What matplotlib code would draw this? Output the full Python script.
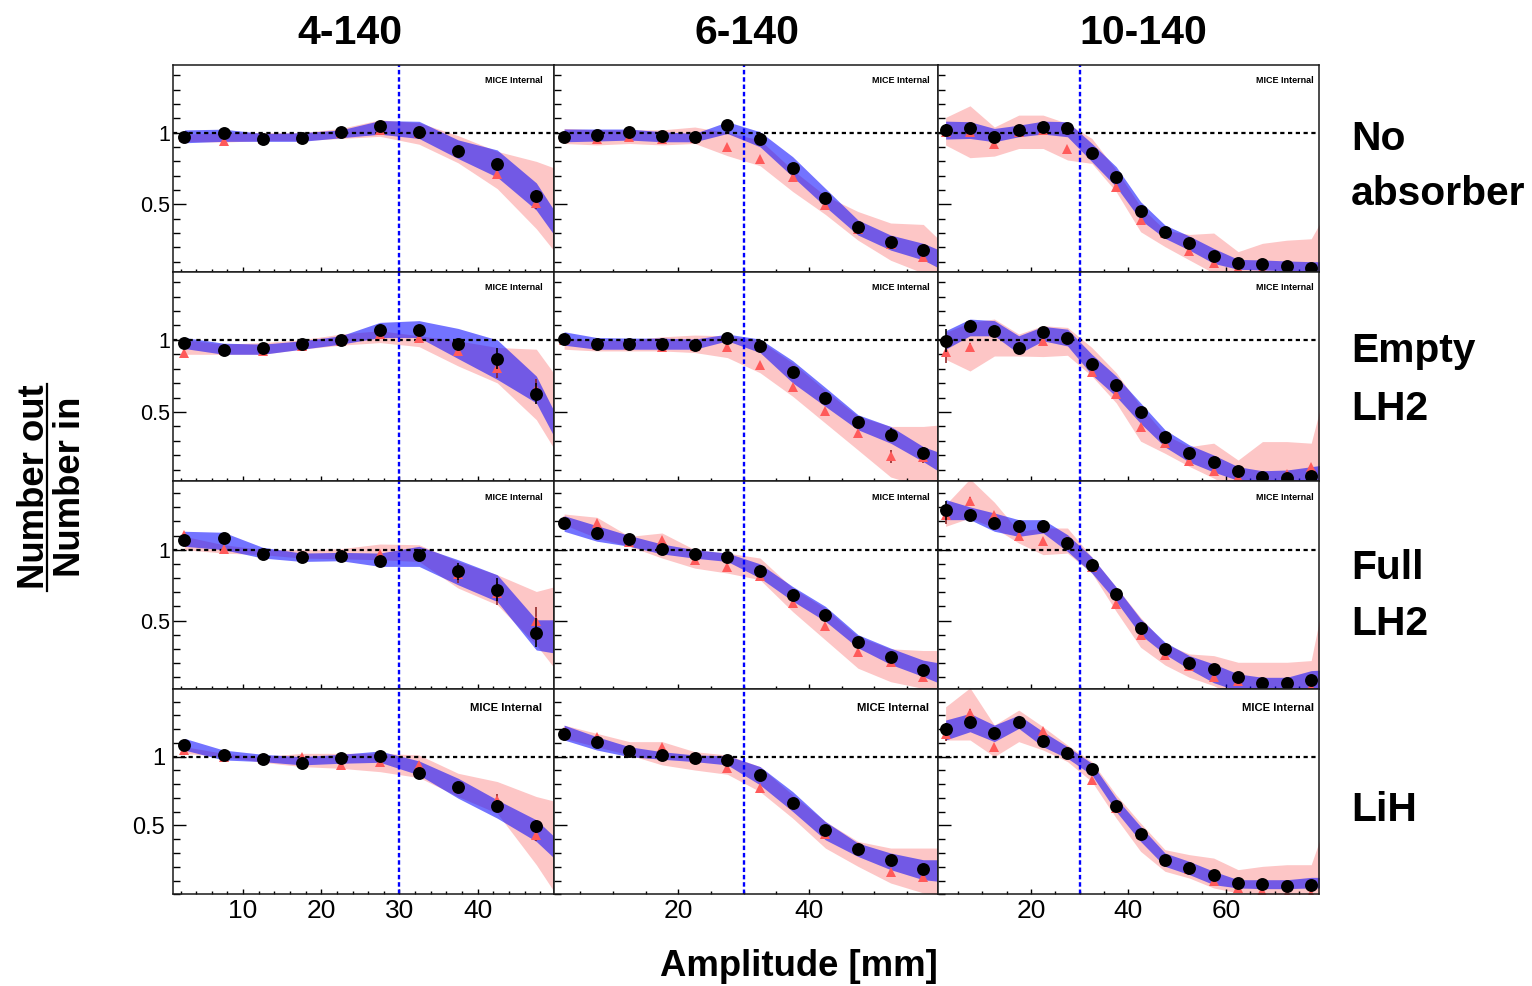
import matplotlib
matplotlib.use("Agg")
import matplotlib.pyplot as plt
from matplotlib.ticker import MultipleLocator
from matplotlib.lines import Line2D

plt.rcParams['font.family'] = ['Liberation Sans', 'DejaVu Sans']

# ---------------- labels ----------------
COLUMN_TITLES = ["4-140", "6-140", "10-140"]
ROW_LABELS = [["No", "absorber"], ["Empty", "LH2"], ["Full", "LH2"], ["LiH"]]
X_LABEL = "Amplitude [mm]"
Y_NUM = "Number out"
Y_DEN = "Number in"
WATERMARK = "MICE Internal"

# ---------------- amplitude bin centres ----------------
AMP_4 = [2.5, 7.5, 12.5, 17.5, 22.5, 27.5, 32.5, 37.5, 42.5, 47.5]
AMP_6 = [2.5, 7.5, 12.5, 17.5, 22.5, 27.5, 32.5, 37.5, 42.5, 47.5, 52.5, 57.5]
AMP_10 = [2.5, 7.5, 12.5, 17.5, 22.5, 27.5, 32.5, 37.5, 42.5, 47.5, 52.5, 57.5,
          62.5, 67.5, 72.5, 77.5]
BAND_EDGE = [50.0, 60.0, 80.0]   # band continues to the frame edge
X_MAJOR = [[10, 20, 30, 40], [20, 40], [20, 40, 60]]
X_MINOR = [2, 5, 5]
X_LIMITS = [(1.0, 49.8), (1.0, 59.8), (1.0, 79.0)]
Y_TICKS = [0.5, 1.0]
Y_TICKLABELS = ["0.5", "1"]
REF_Y = 1.0
REF_X = 30.0

# ---------------- No absorber ----------------
noabs_4_data = [0.97, 1.00, 0.955, 0.96, 1.005, 1.05, 1.005, 0.875, 0.78, 0.56]
noabs_4_mc = [0.97, 0.945, 0.955, 0.96, 1.0, 1.02, 1.0, 0.87, 0.71, 0.51]
noabs_4_err = [0.01, 0.01, 0.01, 0.01, 0.01, 0.01, 0.015, 0.02, 0.035, 0.04]
noabs_4_blue_hi = [1.02, 1.025, 0.995, 1.0, 1.02, 1.085, 1.08, 0.95, 0.88, 0.65, 0.44]
noabs_4_blue_lo = [0.93, 0.94, 0.94, 0.94, 0.965, 0.99, 0.96, 0.82, 0.69, 0.46, 0.27]
noabs_4_pink_hi = [0.99, 1.0, 1.0, 1.0, 1.03, 1.09, 1.07, 0.98, 0.87, 0.80, 0.75]
noabs_4_pink_lo = [0.94, 0.935, 0.945, 0.945, 0.96, 0.975, 0.92, 0.79, 0.61, 0.33, 0.16]

noabs_6_data = [0.967, 0.984, 1.005, 0.977, 0.967, 1.051, 0.953, 0.753, 0.542, 0.342, 0.237, 0.181]
noabs_6_mc = [0.967, 0.953, 0.967, 0.953, 0.96, 0.902, 0.819, 0.693, 0.495, 0.33, 0.22, 0.135]
noabs_6_err = [0.01, 0.01, 0.01, 0.01, 0.01, 0.01, 0.01, 0.01, 0.01, 0.01, 0.015, 0.02]
noabs_6_blue_hi = [1.026, 1.026, 1.026, 1.007, 0.995, 1.077, 1.007, 0.833, 0.612, 0.391, 0.286, 0.228, 0.181]
noabs_6_blue_lo = [0.937, 0.942, 0.949, 0.937, 0.937, 0.995, 0.902, 0.693, 0.484, 0.286, 0.181, 0.112, 0.053]
noabs_6_pink_hi = [1.03, 1.02, 1.02, 1.02, 1.04, 1.0, 0.95, 0.74, 0.56, 0.45, 0.37, 0.36, 0.25]
noabs_6_pink_lo = [0.925, 0.915, 0.925, 0.915, 0.925, 0.84, 0.77, 0.59, 0.43, 0.25, 0.11, 0.02, -0.05]

noabs_10_data = [1.019, 1.03, 0.972, 1.019, 1.042, 1.03, 0.856, 0.693, 0.453, 0.307, 0.233,
                 0.142, 0.088, 0.084, 0.072, 0.053]
noabs_10_mc = [1.007, 1.007, 0.921, 1.007, 1.019, 0.884, 0.856, 0.619, 0.391, 0.298, 0.177,
               0.093, 0.053, 0.047, 0.042, 0.03]
noabs_10_err = [0.04, 0.015, 0.01, 0.01, 0.01, 0.01, 0.01, 0.01, 0.01, 0.01, 0.01,
                0.01, 0.01, 0.01, 0.01, 0.01]
noabs_10_blue_hi = [1.081, 1.077, 1.03, 1.053, 1.081, 1.077, 0.926, 0.763, 0.519, 0.356, 0.279,
                    0.193, 0.116, 0.112, 0.105, 0.1, 0.1]
noabs_10_blue_lo = [0.956, 0.96, 0.937, 0.972, 0.991, 0.972, 0.798, 0.623, 0.391, 0.263, 0.181,
                    0.088, 0.047, 0.042, 0.037, 0.03, 0.03]
noabs_10_pink_hi = [1.107, 1.188, 1.04, 1.123, 1.123, 1.065, 0.96, 0.74, 0.484, 0.32, 0.29,
                    0.30, 0.17, 0.228, 0.25, 0.26, 0.41]
noabs_10_pink_lo = [0.914, 0.826, 0.837, 0.89, 0.89, 0.81, 0.786, 0.588, 0.309, 0.205, 0.112,
                    0.02, -0.05, -0.05, -0.05, -0.05, -0.05]

# ---------------- Empty LH2 ----------------
empty_4_data = [0.981, 0.93, 0.94, 0.97, 0.998, 1.067, 1.067, 0.97, 0.87, 0.628]
empty_4_mc = [0.912, 0.93, 0.923, 0.958, 0.993, 1.04, 1.016, 0.923, 0.807, 0.656]
empty_4_err = [0.015, 0.01, 0.01, 0.01, 0.01, 0.015, 0.02, 0.03, 0.07, 0.07]
empty_4_blue_hi = [1.016, 0.977, 0.97, 0.993, 1.028, 1.121, 1.133, 1.079, 1.0, 0.749, 0.481]
empty_4_blue_lo = [0.94, 0.9, 0.9, 0.935, 0.97, 1.016, 1.016, 0.87, 0.726, 0.563, 0.307]
empty_4_pink_hi = [1.0, 0.97, 0.981, 1.0, 1.04, 1.063, 1.028, 0.993, 0.947, 0.935, 0.749]
empty_4_pink_lo = [0.9, 0.9, 0.9, 0.935, 0.963, 0.981, 0.953, 0.819, 0.702, 0.447, 0.226]

empty_6_data = [1.009, 0.97, 0.97, 0.97, 0.963, 1.012, 0.958, 0.777, 0.6, 0.428, 0.344, 0.219]
empty_6_mc = [1.0, 0.963, 0.963, 0.947, 0.958, 0.947, 0.828, 0.672, 0.509, 0.358, 0.193, 0.186]
empty_6_err = [0.01, 0.01, 0.01, 0.01, 0.01, 0.01, 0.01, 0.01, 0.01, 0.02, 0.045, 0.04]
empty_6_blue_hi = [1.056, 1.016, 1.012, 1.012, 1.005, 1.04, 1.005, 0.856, 0.67, 0.481, 0.4, 0.26, 0.219]
empty_6_blue_lo = [0.963, 0.935, 0.935, 0.935, 0.935, 0.993, 0.912, 0.702, 0.539, 0.377, 0.284, 0.156, 0.086]
empty_6_pink_hi = [1.016, 0.993, 0.998, 1.021, 1.033, 1.028, 0.993, 0.84, 0.65, 0.47, 0.4, 0.4, 0.41]
empty_6_pink_lo = [0.935, 0.923, 0.923, 0.923, 0.912, 0.877, 0.772, 0.609, 0.423, 0.237, 0.05, -0.02, -0.04]

empty_10_data = [0.993, 1.098, 1.063, 0.944, 1.051, 1.016, 0.835, 0.684, 0.5, 0.326, 0.216,
                 0.151, 0.088, 0.049, 0.042, 0.058]
empty_10_mc = [0.919, 0.947, 1.063, 0.958, 0.993, 1.016, 0.777, 0.628, 0.395, 0.288, 0.16,
               0.088, 0.053, 0.042, 0.072, 0.119]
empty_10_err = [0.08, 0.03, 0.015, 0.01, 0.01, 0.01, 0.01, 0.01, 0.01, 0.01, 0.01,
                0.01, 0.01, 0.01, 0.01, 0.02]
empty_10_blue_hi = [1.063, 1.144, 1.133, 1.028, 1.093, 1.074, 0.9, 0.749, 0.563, 0.377, 0.272,
                    0.202, 0.121, 0.093, 0.098, 0.121, 0.133]
empty_10_blue_lo = [0.935, 1.028, 1.028, 0.905, 0.993, 0.958, 0.758, 0.607, 0.421, 0.258, 0.153,
                    0.084, 0.026, 0.02, 0.02, 0.026, 0.037]
empty_10_pink_hi = [1.051, 1.121, 1.144, 1.04, 1.098, 1.086, 0.947, 0.772, 0.54, 0.342, 0.26,
                    0.284, 0.167, 0.295, 0.295, 0.284, 0.609]
empty_10_pink_lo = [0.865, 0.784, 0.888, 0.888, 0.884, 0.893, 0.749, 0.563, 0.298, 0.214, 0.123,
                    0.042, -0.05, -0.05, -0.05, -0.05, -0.05]

# ---------------- Full LH2 ----------------
full_4_data = [1.066, 1.083, 0.969, 0.946, 0.953, 0.917, 0.96, 0.847, 0.717, 0.415]
full_4_mc = [1.106, 1.007, 0.977, 0.953, 0.96, 0.969, 0.969, 0.828, 0.693, 0.493]
full_4_err = [0.02, 0.01, 0.01, 0.01, 0.01, 0.015, 0.03, 0.06, 0.08, 0.1]
full_4_blue_hi = [1.13, 1.123, 1.017, 0.976, 0.981, 0.976, 1.024, 0.929, 0.823, 0.505, 0.505]
full_4_blue_lo = [1.024, 1.0, 0.941, 0.917, 0.922, 0.882, 0.882, 0.752, 0.634, 0.292, 0.269]
full_4_pink_hi = [1.094, 1.035, 1.0, 1.0, 1.007, 1.04, 1.035, 0.917, 0.823, 0.705, 0.741]
full_4_pink_lo = [1.0, 0.976, 0.965, 0.941, 0.936, 0.929, 0.917, 0.729, 0.611, 0.328, 0.151]

full_6_data = [1.189, 1.12, 1.073, 1.005, 0.969, 0.946, 0.847, 0.682, 0.54, 0.351, 0.241, 0.151]
full_6_mc = [1.2, 1.189, 1.054, 1.071, 0.929, 0.875, 0.811, 0.623, 0.458, 0.281, 0.205, 0.104]
full_6_err = [0.01, 0.01, 0.01, 0.01, 0.01, 0.01, 0.01, 0.01, 0.01, 0.01, 0.015, 0.015]
full_6_blue_hi = [1.24, 1.17, 1.1, 1.04, 1.0, 0.976, 0.9, 0.74, 0.6, 0.4, 0.305, 0.22, 0.2]
full_6_blue_lo = [1.13, 1.06, 1.024, 0.97, 0.94, 0.917, 0.8, 0.637, 0.495, 0.307, 0.19, 0.104, 0.057]
full_6_pink_hi = [1.252, 1.229, 1.094, 1.118, 1.0, 0.976, 0.941, 0.729, 0.587, 0.387, 0.3, 0.288, 0.288]
full_6_pink_lo = [1.177, 1.083, 1.024, 0.941, 0.87, 0.835, 0.788, 0.563, 0.363, 0.163, 0.068, 0.02, 0.01]

full_10_data = [1.278, 1.243, 1.191, 1.167, 1.167, 1.05, 0.894, 0.686, 0.45, 0.3, 0.2,
                0.158, 0.099, 0.057, 0.057, 0.083]
full_10_mc = [1.243, 1.342, 1.243, 1.094, 1.059, 1.059, 0.875, 0.616, 0.399, 0.259, 0.177,
              0.099, 0.071, 0.04, 0.03, 0.03]
full_10_err = [0.065, 0.03, 0.015, 0.01, 0.01, 0.01, 0.01, 0.01, 0.01, 0.01, 0.01,
               0.01, 0.01, 0.01, 0.01, 0.01]
full_10_blue_hi = [1.354, 1.302, 1.259, 1.212, 1.212, 1.106, 0.948, 0.736, 0.512, 0.347, 0.252,
                   0.193, 0.123, 0.099, 0.099, 0.146, 0.151]
full_10_blue_lo = [1.212, 1.212, 1.13, 1.094, 1.118, 0.988, 0.835, 0.634, 0.399, 0.262, 0.156,
                   0.061, 0.002, 0.0, 0.0, 0.002, 0.014]
full_10_pink_hi = [1.318, 1.50, 1.335, 1.13, 1.153, 1.153, 0.948, 0.736, 0.521, 0.335, 0.264,
                   0.252, 0.205, 0.205, 0.205, 0.217, 0.642]
full_10_pink_lo = [1.165, 1.224, 1.153, 1.047, 0.965, 0.976, 0.835, 0.564, 0.311, 0.186, 0.099,
                   0.04, -0.05, -0.05, -0.05, -0.05, -0.05]

# ---------------- LiH ----------------
lih_4_data = [1.085, 1.012, 0.983, 0.952, 0.988, 1.005, 0.879, 0.778, 0.645, 0.493]
lih_4_mc = [1.048, 1.0, 0.983, 1.0, 0.94, 0.964, 0.94, 0.783, 0.686, 0.432]
lih_4_err = [0.015, 0.01, 0.01, 0.01, 0.01, 0.01, 0.015, 0.02, 0.04, 0.045]
lih_4_blue_hi = [1.133, 1.048, 1.017, 1.0, 1.017, 1.041, 0.969, 0.843, 0.686, 0.541, 0.408]
lih_4_blue_lo = [1.048, 0.976, 0.964, 0.94, 0.952, 0.959, 0.867, 0.698, 0.553, 0.384, 0.251]
lih_4_pink_hi = [1.072, 1.024, 1.0, 1.024, 1.024, 1.024, 1.012, 0.879, 0.819, 0.71, 0.674]
lih_4_pink_lo = [1.024, 1.0, 0.959, 0.928, 0.915, 0.891, 0.848, 0.71, 0.589, 0.215, 0.0]

lih_6_data = [1.164, 1.104, 1.043, 1.012, 0.99, 0.976, 0.87, 0.662, 0.464, 0.331, 0.246, 0.186]
lih_6_mc = [1.18, 1.14, 1.043, 1.072, 0.99, 0.92, 0.77, 0.662, 0.44, 0.343, 0.162, 0.123]
lih_6_err = [0.01, 0.01, 0.01, 0.01, 0.01, 0.01, 0.01, 0.01, 0.01, 0.01, 0.015, 0.015]
lih_6_blue_hi = [1.229, 1.145, 1.072, 1.036, 1.012, 1.007, 0.928, 0.746, 0.529, 0.372, 0.3, 0.251, 0.251]
lih_6_blue_lo = [1.121, 1.048, 1.0, 0.981, 0.964, 0.94, 0.795, 0.602, 0.396, 0.275, 0.179, 0.106, 0.094]
lih_6_pink_hi = [1.229, 1.169, 1.109, 1.109, 1.036, 1.012, 0.928, 0.722, 0.529, 0.384, 0.336, 0.336, 0.336]
lih_6_pink_lo = [1.133, 1.072, 1.012, 0.94, 0.903, 0.872, 0.746, 0.553, 0.336, 0.203, 0.082, 0.01, 0.0]

lih_10_data = [1.198, 1.249, 1.169, 1.249, 1.116, 1.029, 0.908, 0.645, 0.44, 0.251, 0.191,
               0.142, 0.082, 0.075, 0.058, 0.07]
lih_10_mc = [1.164, 1.314, 1.068, 1.26, 1.188, 1.041, 0.831, 0.626, 0.44, 0.246, 0.186,
             0.099, 0.046, 0.022, 0.0, 0.005]
lih_10_err = [0.05, 0.03, 0.015, 0.01, 0.01, 0.01, 0.01, 0.01, 0.01, 0.01, 0.01,
              0.01, 0.01, 0.01, 0.01, 0.01]
lih_10_blue_hi = [1.266, 1.314, 1.229, 1.302, 1.181, 1.072, 0.952, 0.698, 0.493, 0.3, 0.239,
                  0.167, 0.106, 0.106, 0.106, 0.123, 0.123]
lih_10_blue_lo = [1.121, 1.181, 1.109, 1.205, 1.072, 0.988, 0.867, 0.601, 0.384, 0.203, 0.143,
                  0.07, 0.046, 0.041, 0.041, 0.046, 0.046]
lih_10_pink_hi = [1.362, 1.50, 1.229, 1.338, 1.217, 1.084, 0.964, 0.722, 0.517, 0.324, 0.288,
                  0.263, 0.179, 0.203, 0.215, 0.215, 0.469]
lih_10_pink_lo = [1.121, 1.121, 1.0, 1.109, 1.048, 0.964, 0.819, 0.553, 0.312, 0.167, 0.118,
                  0.046, 0.01, 0.0, 0.0, 0.0, 0.0]

# table assembled from the named arrays above
PANELS = [
    [(noabs_4_data, noabs_4_mc, noabs_4_err, noabs_4_blue_lo, noabs_4_blue_hi, noabs_4_pink_lo, noabs_4_pink_hi),
     (noabs_6_data, noabs_6_mc, noabs_6_err, noabs_6_blue_lo, noabs_6_blue_hi, noabs_6_pink_lo, noabs_6_pink_hi),
     (noabs_10_data, noabs_10_mc, noabs_10_err, noabs_10_blue_lo, noabs_10_blue_hi, noabs_10_pink_lo, noabs_10_pink_hi)],
    [(empty_4_data, empty_4_mc, empty_4_err, empty_4_blue_lo, empty_4_blue_hi, empty_4_pink_lo, empty_4_pink_hi),
     (empty_6_data, empty_6_mc, empty_6_err, empty_6_blue_lo, empty_6_blue_hi, empty_6_pink_lo, empty_6_pink_hi),
     (empty_10_data, empty_10_mc, empty_10_err, empty_10_blue_lo, empty_10_blue_hi, empty_10_pink_lo, empty_10_pink_hi)],
    [(full_4_data, full_4_mc, full_4_err, full_4_blue_lo, full_4_blue_hi, full_4_pink_lo, full_4_pink_hi),
     (full_6_data, full_6_mc, full_6_err, full_6_blue_lo, full_6_blue_hi, full_6_pink_lo, full_6_pink_hi),
     (full_10_data, full_10_mc, full_10_err, full_10_blue_lo, full_10_blue_hi, full_10_pink_lo, full_10_pink_hi)],
    [(lih_4_data, lih_4_mc, lih_4_err, lih_4_blue_lo, lih_4_blue_hi, lih_4_pink_lo, lih_4_pink_hi),
     (lih_6_data, lih_6_mc, lih_6_err, lih_6_blue_lo, lih_6_blue_hi, lih_6_pink_lo, lih_6_pink_hi),
     (lih_10_data, lih_10_mc, lih_10_err, lih_10_blue_lo, lih_10_blue_hi, lih_10_pink_lo, lih_10_pink_hi)],
]
AMPS = [AMP_4, AMP_6, AMP_10]

# ---------------- layout (pixels) ----------------
W, H = 1532, 986
X_EDGES = [172.7, 554.3, 938.3, 1318.5]
Y_EDGES = [64.7, 272.0, 481.0, 689.2, 894.3]
Y_LIMITS = [(0.028, 1.475), (0.022, 1.47), (0.015, 1.485), (0.0, 1.49)]
MARK_OFF = [12, 9, 5]

PINK = '#fdc6c6'
BLUE = '#0000ff'
TRI = '#ff5a5a'

fig = plt.figure(figsize=(W / 100, H / 100), dpi=100)

def fx(px):
    return px / W

def fy(py):
    return 1 - py / H

for r in range(4):
    for c in range(3):
        ax = fig.add_axes([fx(X_EDGES[c]), fy(Y_EDGES[r + 1]),
                           fx(X_EDGES[c + 1]) - fx(X_EDGES[c]),
                           fy(Y_EDGES[r]) - fy(Y_EDGES[r + 1])])
        data, mc, err, blo, bhi, plo, phi = PANELS[r][c]
        amp = AMPS[c]
        bx = amp + [BAND_EDGE[c]]
        ax.fill_between(bx, plo, phi, color=PINK, lw=0, zorder=1)
        ax.fill_between(bx, blo, bhi, color=BLUE, alpha=0.55, lw=0, zorder=2)
        ax.axhline(REF_Y, color='black', lw=1.6, ls=(0, (1.9, 1.6)), zorder=3)
        ax.axvline(REF_X, color=BLUE, lw=1.7, ls=(0, (1.9, 1.2)), zorder=3)
        ax.errorbar(amp, mc, yerr=err, fmt='^', color=TRI, ms=6.8, mew=0,
                    ecolor='#8a1a1a', elinewidth=1.1, capsize=3.0, capthick=1.1, zorder=4)
        ax.errorbar(amp, data, yerr=err, fmt='o', color='black', ms=9.3, mew=0,
                    ecolor='black', elinewidth=1.2, capsize=3.2, capthick=1.2, zorder=5)

        ax.set_xlim(*X_LIMITS[c])
        ax.set_ylim(*Y_LIMITS[r])
        ax.set_xticks(X_MAJOR[c])
        ax.xaxis.set_minor_locator(MultipleLocator(X_MINOR[c]))
        ax.set_yticks(Y_TICKS, labels=Y_TICKLABELS)
        ax.yaxis.set_minor_locator(MultipleLocator(0.1))
        last = (r == 3)
        ax.tick_params(axis='y', which='major', direction='in', length=9.5, width=1.0,
                       labelsize=17 if last else 15.5, pad=5.5 if last else 2,
                       labelleft=(c == 0), left=True, right=False)
        ax.tick_params(axis='y', which='minor', direction='in', length=5, width=1.0,
                       left=True, right=False)
        ax.tick_params(axis='x', which='major', direction='in', length=3.8, width=1.0,
                       labelsize=19, pad=3.5, labelbottom=last, bottom=True, top=False)
        ax.tick_params(axis='x', which='minor', direction='in', length=2.2, width=1.0,
                       bottom=True, top=False)
        for sp in ax.spines.values():
            sp.set_linewidth(1.1)
            sp.set_color('#1a1a1a')
            sp.set_zorder(6)

        mx = X_EDGES[c + 1] - MARK_OFF[c]
        my = Y_EDGES[r] + (19 if last else 16)
        fig.text(fx(mx), fy(my), WATERMARK, ha='right', va='center',
                 fontsize=8.1 if last else 6.5, fontweight='bold')

# column titles
TITLE_X = [350, 747, 1143]
for c, t in enumerate(COLUMN_TITLES):
    fig.text(fx(TITLE_X[c]), fy(44), t, ha='center', va='baseline',
             fontsize=29.5, fontweight='bold')

# row labels
ROW_BASELINES = [[150, 205], [362, 420], [579, 635], [821]]
for lines, bases in zip(ROW_LABELS, ROW_BASELINES):
    for txt, b in zip(lines, bases):
        fig.text(fx(1351), fy(b), txt, ha='left', va='baseline',
                 fontsize=29.3, fontweight='bold')

# x label
fig.text(fx(799), fy(976), X_LABEL, ha='center', va='baseline',
         fontsize=26.3, fontweight='bold')

# y label as a fraction
fig.text(fx(44), fy(487), Y_NUM, rotation=90, rotation_mode='anchor',
         ha='center', va='baseline', fontsize=26.3, fontweight='bold')
fig.text(fx(80), fy(487), Y_DEN, rotation=90, rotation_mode='anchor',
         ha='center', va='baseline', fontsize=26.3, fontweight='bold')
fig.add_artist(Line2D([fx(47), fx(47)], [fy(384), fy(591)], color='black', lw=1.6,
                      transform=fig.transFigure))

fig.savefig('out.png', dpi=100)
